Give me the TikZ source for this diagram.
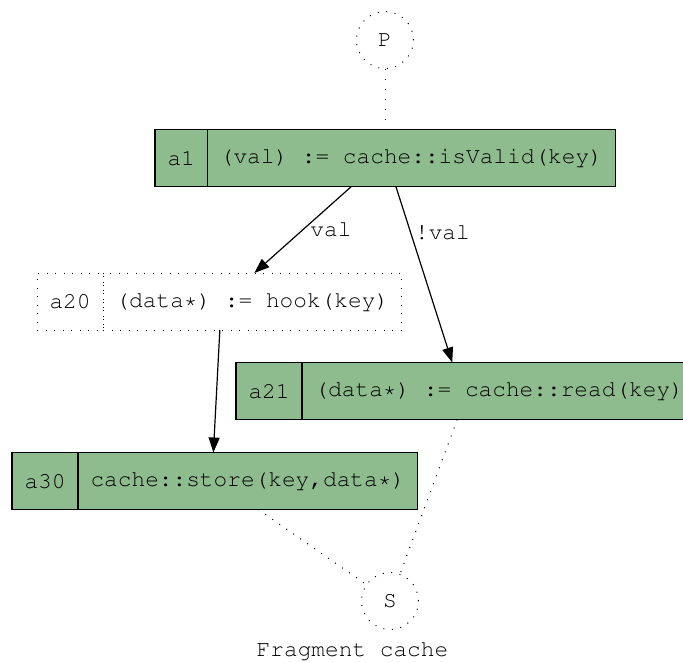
\documentclass[tikz,border=0pt]{standalone}
\usepackage[T1]{fontenc}
\usepackage{tikz}
\usetikzlibrary{arrows.meta}
\usetikzlibrary{calc, positioning}
\definecolor{recgreen}{HTML}{8FBC8F}
\tikzstyle{idbox}=[rectangle, draw, fill=recgreen, minimum height=57pt, inner xsep=12.5pt, outer sep=0pt]
\tikzstyle{bodybox}=[rectangle, draw, fill=recgreen, minimum height=57pt, inner xsep=12.5pt, outer sep=0pt]
\tikzstyle{hookbox}=[rectangle, draw, line width=1pt, dash pattern=on 1pt off 7.5pt, minimum height=57pt, inner xsep=12.5pt, outer sep=0pt]
\tikzstyle{term}=[circle, draw, line width=1pt, dash pattern=on 1pt off 7.5pt, minimum size=57pt, inner sep=0pt]

\begin{document}
\begin{tikzpicture}[x=1pt, y=-1pt]
\tikzset{>={Triangle[length=15pt, width=11pt]}}

\tikzset{every node/.style={font=\fontfamily{pcr}\fontsize{22.8pt}{24pt}\selectfont}}

%  all lines
\tikzset{every path/.style={line width=1.2pt}}

\useasboundingbox (0,0) rectangle (683,662);

% start and end
\node[term] (P) at (385,40) {P};
\node[term] (S) at (390,601) {S};

% records
\node[idbox, anchor=west] (a1) at (155,158) {a1};
\node[bodybox, right=0pt of a1] (a1b) {(val) := cache::isValid(key)};

\node[hookbox, anchor=west] (a20) at (37,301.5) {a20};
\node[hookbox, right=0pt of a20] (a20b) {(data*) := hook(key)};

\node[idbox, anchor=west] (a21) at (236,391) {a21};
\node[bodybox, right=0pt of a21] (a21b) {(data*) := cache::read(key)};

\node[idbox, anchor=west] (a30) at (12,481) {a30};
\node[bodybox, right=0pt of a30] (a30b) {cache::store(key,data*)};

% edges
\draw[line width=1pt, dash pattern=on 1pt off 9pt] (P) -- (P |- a1b.north);
\draw[->] ([xshift=-60pt]a1b.south) -- node[right, pos=.5, inner sep=7pt] {val} ([xshift=2pt]a20b.north);
\draw[->] ([xshift=-15.5pt]a1b.south) -- node[right, pos=.26, inner sep=4pt] {!val} ([xshift=-47pt]a21b.north);
\draw[->] ([xshift=-32.5pt]a20b.south) -- ([xshift=-34.5pt]a30b.south |- a30b.north);
\draw[line width=1pt, dash pattern=on 1pt off 7.5pt] ([xshift=10.5pt]a30b.south) -- (S);
\draw[line width=1pt, dash pattern=on 1pt off 7.5pt] ([xshift=-42pt]a21b.south) -- (S);

\node (title) at (352.5,651) {Fragment cache};

\end{tikzpicture}
\end{document}
